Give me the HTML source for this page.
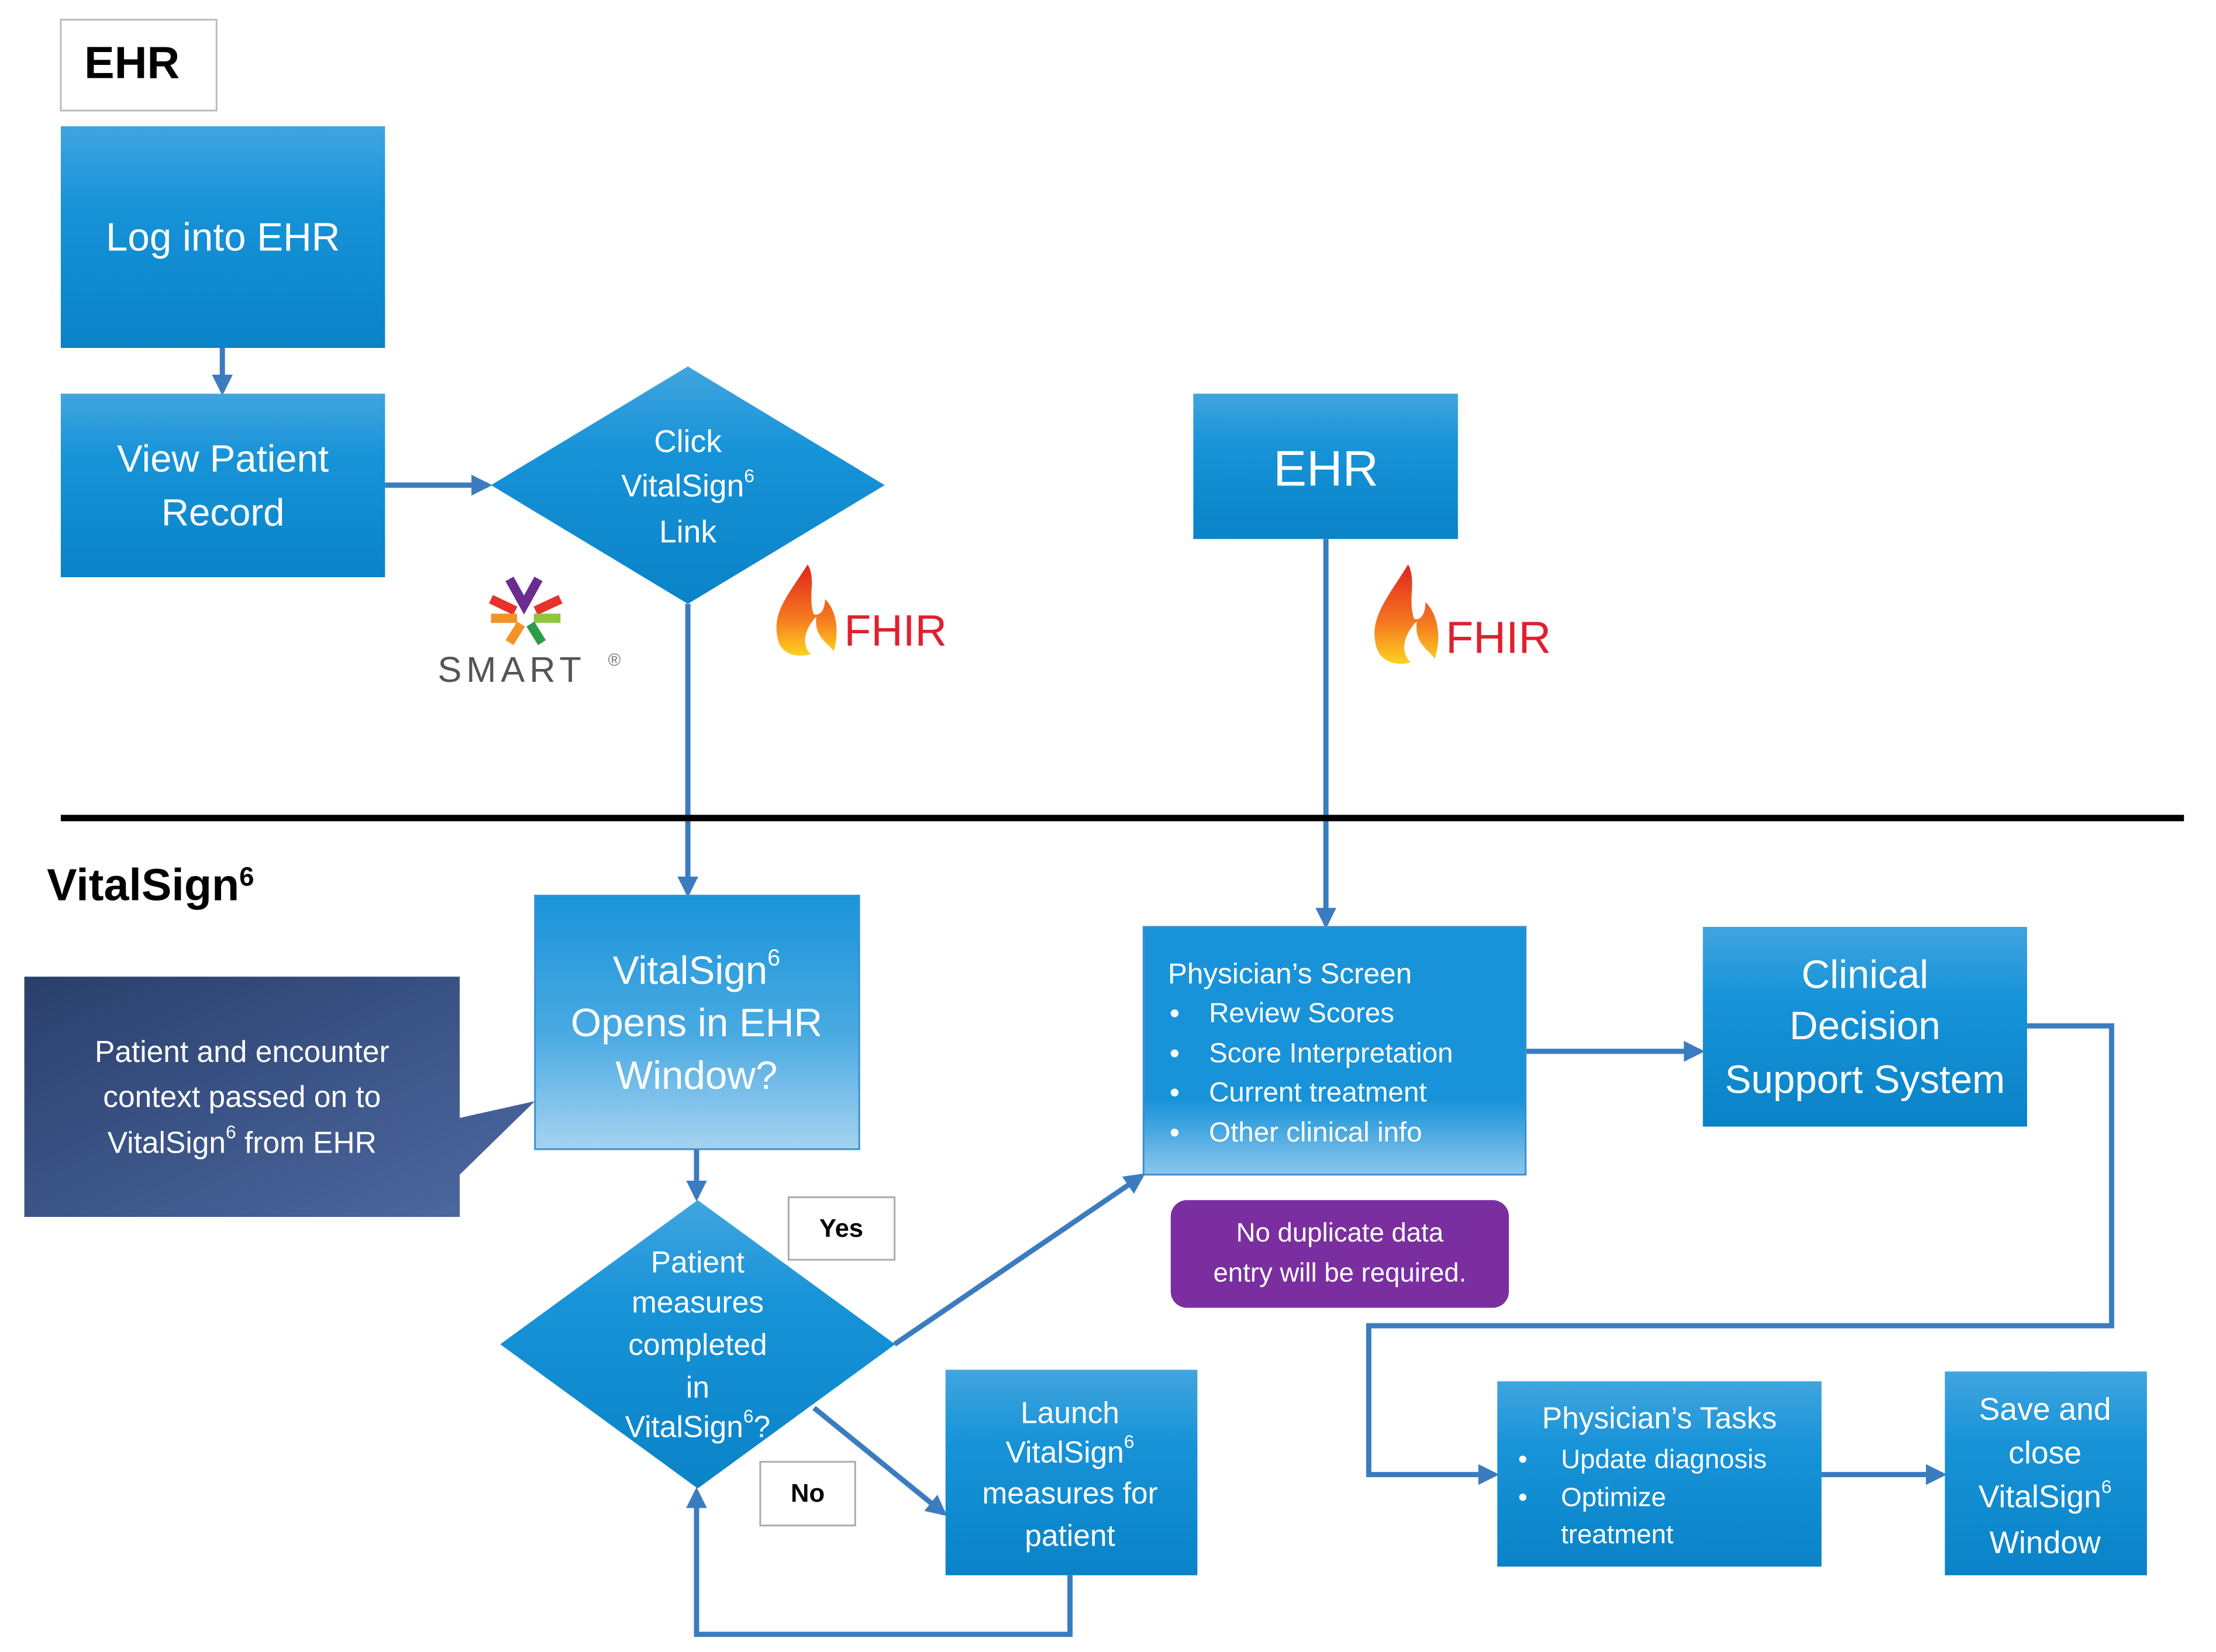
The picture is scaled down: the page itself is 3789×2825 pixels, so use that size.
<!DOCTYPE html>
<html><head><meta charset="utf-8"><style>
html,body{margin:0;padding:0;background:#fff;}
svg{display:block;}
text{font-family:"Liberation Sans Narrow","Liberation Sans",sans-serif;}
</style></head><body>
<svg width="3789" height="2825" viewBox="0 0 3789 2825" xmlns="http://www.w3.org/2000/svg">
<defs>
<linearGradient id="gb" x1="0" y1="0" x2="0" y2="1"><stop offset="0" stop-color="#41a5df"/><stop offset="0.35" stop-color="#1793d8"/><stop offset="1" stop-color="#0a83c8"/></linearGradient>
<linearGradient id="gl" x1="0" y1="0" x2="0" y2="1"><stop offset="0" stop-color="#1a94da"/><stop offset="0.55" stop-color="#4aaae2"/><stop offset="1" stop-color="#a6d3f1"/></linearGradient>
<linearGradient id="gs" x1="0" y1="0" x2="0" y2="1"><stop offset="0" stop-color="#1893d9"/><stop offset="0.7" stop-color="#1893d9"/><stop offset="1" stop-color="#8cc6ec"/></linearGradient>
<linearGradient id="gn" x1="0" y1="0" x2="1" y2="1"><stop offset="0" stop-color="#2a3f6b"/><stop offset="1" stop-color="#4d6aa3"/></linearGradient>
<linearGradient id="gf" x1="0" y1="0" x2="0" y2="1"><stop offset="0" stop-color="#e3231d"/><stop offset="0.6" stop-color="#f47b20"/><stop offset="1" stop-color="#ffd21f"/></linearGradient>
<marker id="ar" viewBox="0 0 10 10" refX="8" refY="5" markerWidth="4" markerHeight="4" orient="auto"><path d="M0,0 L10,5 L0,10 z" fill="#3b7cc0"/></marker>
</defs>
<g transform="scale(0.99)">
<g fill="none" stroke="#3b7cc0" stroke-width="9">
<line x1="384" y1="601" x2="384" y2="676" marker-end="url(#ar)"/>
<line x1="665" y1="838" x2="843" y2="838" marker-end="url(#ar)"/>
<line x1="1188" y1="1043" x2="1188" y2="1543" marker-end="url(#ar)"/>
<line x1="2290" y1="931" x2="2290" y2="1597" marker-end="url(#ar)"/>
<line x1="1203" y1="1985" x2="1203" y2="2068" marker-end="url(#ar)"/>
<line x1="1545" y1="2322" x2="1972" y2="2031" marker-end="url(#ar)"/>
<line x1="1406" y1="2432" x2="1630" y2="2614" marker-end="url(#ar)"/>
<polyline points="1848,2721 1848,2823 1203,2823 1203,2576" marker-end="url(#ar)"/>
<line x1="2635" y1="1816" x2="2937" y2="1816" marker-end="url(#ar)"/>
<polyline points="3501,1772 3647,1772 3647,2290 2364,2290 2364,2547 2582,2547" marker-end="url(#ar)"/>
<line x1="3146" y1="2547" x2="3355" y2="2547" marker-end="url(#ar)"/>
</g>
<line x1="105" y1="1413" x2="3772" y2="1413" stroke="#000" stroke-width="11"/>
<rect x="105" y="34" width="269" height="157" fill="#fff" stroke="#bbb" stroke-width="3"/>
<text x="228" y="135" font-size="78" font-weight="bold" text-anchor="middle" fill="#000">EHR</text>
<rect x="105" y="218" width="560" height="383" fill="url(#gb)"/>
<text x="385" y="410" font-size="68" text-anchor="middle" dominant-baseline="central" fill="#fff">Log into EHR</text>
<rect x="105" y="680" width="560" height="317" fill="url(#gb)"/>
<text x="385" y="792" font-size="66" text-anchor="middle" dominant-baseline="central" fill="#fff">View Patient</text>
<text x="385" y="885" font-size="66" text-anchor="middle" dominant-baseline="central" fill="#fff">Record</text>
<polygon points="848,838 1188,633 1528,838 1188,1043" fill="url(#gb)"/>
<text x="1188" y="763" font-size="54" text-anchor="middle" dominant-baseline="central" fill="#fff">Click</text>
<text x="1188" y="840" font-size="54" text-anchor="middle" dominant-baseline="central" fill="#fff">VitalSign<tspan font-size="32" baseline-shift="super">6</tspan></text>
<text x="1188" y="919" font-size="54" text-anchor="middle" dominant-baseline="central" fill="#fff">Link</text>
<g stroke-width="16" stroke-linecap="butt" fill="none">
<path d="M880,1000 L905,1045 L930,1000" stroke="#6b2c8f"/>
<path d="M848,1035 L890,1055" stroke="#e5322d"/>
<path d="M968,1035 L925,1055" stroke="#e5322d"/>
<path d="M848,1068 L893,1068" stroke="#f39325"/>
<path d="M968,1068 L922,1068" stroke="#8dc63f"/>
<path d="M880,1110 L900,1078" stroke="#f39325"/>
<path d="M936,1110 L916,1078" stroke="#2d9c4a"/>
</g>
<text x="756" y="1178" font-size="62" font-family="Liberation Sans" letter-spacing="8" fill="#555">SMART</text>
<text x="1050" y="1150" font-size="30" fill="#777" font-family="Liberation Sans">®</text>
<path d="M1395,975 C1360,1030 1330,1060 1345,1110 C1355,1135 1385,1135 1400,1130 C1380,1110 1395,1080 1410,1065 C1405,1100 1430,1110 1440,1125 C1450,1090 1445,1055 1425,1035 C1425,1060 1410,1065 1405,1060 C1395,1030 1410,1000 1395,975 Z" fill="url(#gf)"/>
<text x="1458" y="1115" font-size="76" fill="#e0202e" font-family="Liberation Sans">FHIR</text>
<rect x="2061" y="680" width="457" height="251" fill="url(#gb)"/>
<text x="2290" y="810" font-size="86" text-anchor="middle" dominant-baseline="central" fill="#fff">EHR</text>
<path d="M2432,975 C2395,1035 2362,1070 2378,1120 C2388,1148 2420,1150 2436,1144 C2414,1122 2430,1090 2447,1073 C2442,1112 2468,1122 2478,1138 C2490,1100 2484,1062 2462,1040 C2462,1068 2447,1073 2442,1068 C2431,1035 2447,1003 2432,975 Z" fill="url(#gf)"/>
<text x="2497" y="1128" font-size="78" fill="#e0202e" font-family="Liberation Sans">FHIR</text>
<text x="81" y="1555" font-size="78" font-weight="bold" fill="#000">VitalSign<tspan font-size="46" baseline-shift="super">6</tspan></text>
<path d="M42,1687 L794,1687 L794,1931 L924,1902 L794,2029 L794,2102 L42,2102 Z" fill="url(#gn)"/>
<text x="418" y="1816" font-size="52" text-anchor="middle" dominant-baseline="central" fill="#fff">Patient and encounter</text>
<text x="418" y="1894" font-size="52" text-anchor="middle" dominant-baseline="central" fill="#fff">context passed on to</text>
<text x="418" y="1973" font-size="52" text-anchor="middle" dominant-baseline="central" fill="#fff">VitalSign<tspan font-size="32" baseline-shift="super">6</tspan> from EHR</text>
<rect x="924" y="1547" width="560" height="438" fill="url(#gl)" stroke="#3b8fd0" stroke-width="3"/>
<text x="1203" y="1677" font-size="68" text-anchor="middle" dominant-baseline="central" fill="#fff">VitalSign<tspan font-size="40" baseline-shift="super">6</tspan></text>
<text x="1203" y="1767" font-size="68" text-anchor="middle" dominant-baseline="central" fill="#fff">Opens in EHR</text>
<text x="1203" y="1858" font-size="68" text-anchor="middle" dominant-baseline="central" fill="#fff">Window?</text>
<polygon points="864,2322 1205,2073 1546,2322 1205,2571" fill="url(#gb)"/>
<text x="1205" y="2180" font-size="52" text-anchor="middle" dominant-baseline="central" fill="#fff">Patient</text>
<text x="1205" y="2249" font-size="52" text-anchor="middle" dominant-baseline="central" fill="#fff">measures</text>
<text x="1205" y="2322" font-size="52" text-anchor="middle" dominant-baseline="central" fill="#fff">completed</text>
<text x="1205" y="2396" font-size="52" text-anchor="middle" dominant-baseline="central" fill="#fff">in</text>
<text x="1205" y="2464" font-size="52" text-anchor="middle" dominant-baseline="central" fill="#fff">VitalSign<tspan font-size="32" baseline-shift="super">6</tspan>?</text>
<rect x="1362" y="2068" width="183" height="108" fill="#fff" stroke="#aaa" stroke-width="3"/>
<text x="1453" y="2122" font-size="44" font-weight="bold" text-anchor="middle" dominant-baseline="central" fill="#000">Yes</text>
<rect x="1313" y="2525" width="164" height="110" fill="#fff" stroke="#aaa" stroke-width="3"/>
<text x="1395" y="2580" font-size="44" font-weight="bold" text-anchor="middle" dominant-baseline="central" fill="#000">No</text>
<rect x="1633" y="2366" width="435" height="355" fill="url(#gb)"/>
<text x="1848" y="2440" font-size="52" text-anchor="middle" dominant-baseline="central" fill="#fff">Launch</text>
<text x="1848" y="2508" font-size="52" text-anchor="middle" dominant-baseline="central" fill="#fff">VitalSign<tspan font-size="32" baseline-shift="super">6</tspan></text>
<text x="1848" y="2579" font-size="52" text-anchor="middle" dominant-baseline="central" fill="#fff">measures for</text>
<text x="1848" y="2652" font-size="52" text-anchor="middle" dominant-baseline="central" fill="#fff">patient</text>
<rect x="1975" y="1601" width="660" height="428" fill="url(#gs)" stroke="#3b8fd0" stroke-width="3"/>
<g fill="#fff" font-size="50" dominant-baseline="central">
<text x="2017" y="1682">Physician’s Screen</text>
<text x="2020" y="1750">•</text><text x="2088" y="1750" font-size="48">Review Scores</text>
<text x="2020" y="1819">•</text><text x="2088" y="1819" font-size="48">Score Interpretation</text>
<text x="2020" y="1887">•</text><text x="2088" y="1887" font-size="48">Current treatment</text>
<text x="2020" y="1956">•</text><text x="2088" y="1956" font-size="48">Other clinical info</text>
</g>
<rect x="2022" y="2073" width="584" height="186" rx="28" fill="#7a2ea0"/>
<text x="2314" y="2129" font-size="46" text-anchor="middle" dominant-baseline="central" fill="#fff">No duplicate data</text>
<text x="2314" y="2198" font-size="46" text-anchor="middle" dominant-baseline="central" fill="#fff">entry will be required.</text>
<rect x="2941" y="1601" width="560" height="345" fill="url(#gb)"/>
<text x="3221" y="1684" font-size="68" text-anchor="middle" dominant-baseline="central" fill="#fff">Clinical</text>
<text x="3221" y="1772" font-size="68" text-anchor="middle" dominant-baseline="central" fill="#fff">Decision</text>
<text x="3221" y="1865" font-size="68" text-anchor="middle" dominant-baseline="central" fill="#fff">Support System</text>
<rect x="2586" y="2386" width="560" height="320" fill="url(#gb)"/>
<g fill="#fff" dominant-baseline="central">
<text x="2866" y="2449" font-size="52" text-anchor="middle">Physician’s Tasks</text>
<text x="2622" y="2520" font-size="46">•</text><text x="2696" y="2520" font-size="46">Update diagnosis</text>
<text x="2622" y="2586" font-size="46">•</text><text x="2696" y="2586" font-size="46">Optimize</text>
<text x="2696" y="2650" font-size="46">treatment</text>
</g>
<rect x="3359" y="2369" width="349" height="352" fill="url(#gb)"/>
<text x="3532" y="2435" font-size="54" text-anchor="middle" dominant-baseline="central" fill="#fff">Save and</text>
<text x="3532" y="2510" font-size="54" text-anchor="middle" dominant-baseline="central" fill="#fff">close</text>
<text x="3532" y="2586" font-size="54" text-anchor="middle" dominant-baseline="central" fill="#fff">VitalSign<tspan font-size="32" baseline-shift="super">6</tspan></text>
<text x="3532" y="2665" font-size="54" text-anchor="middle" dominant-baseline="central" fill="#fff">Window</text>
</g>
</svg>
</body></html>
